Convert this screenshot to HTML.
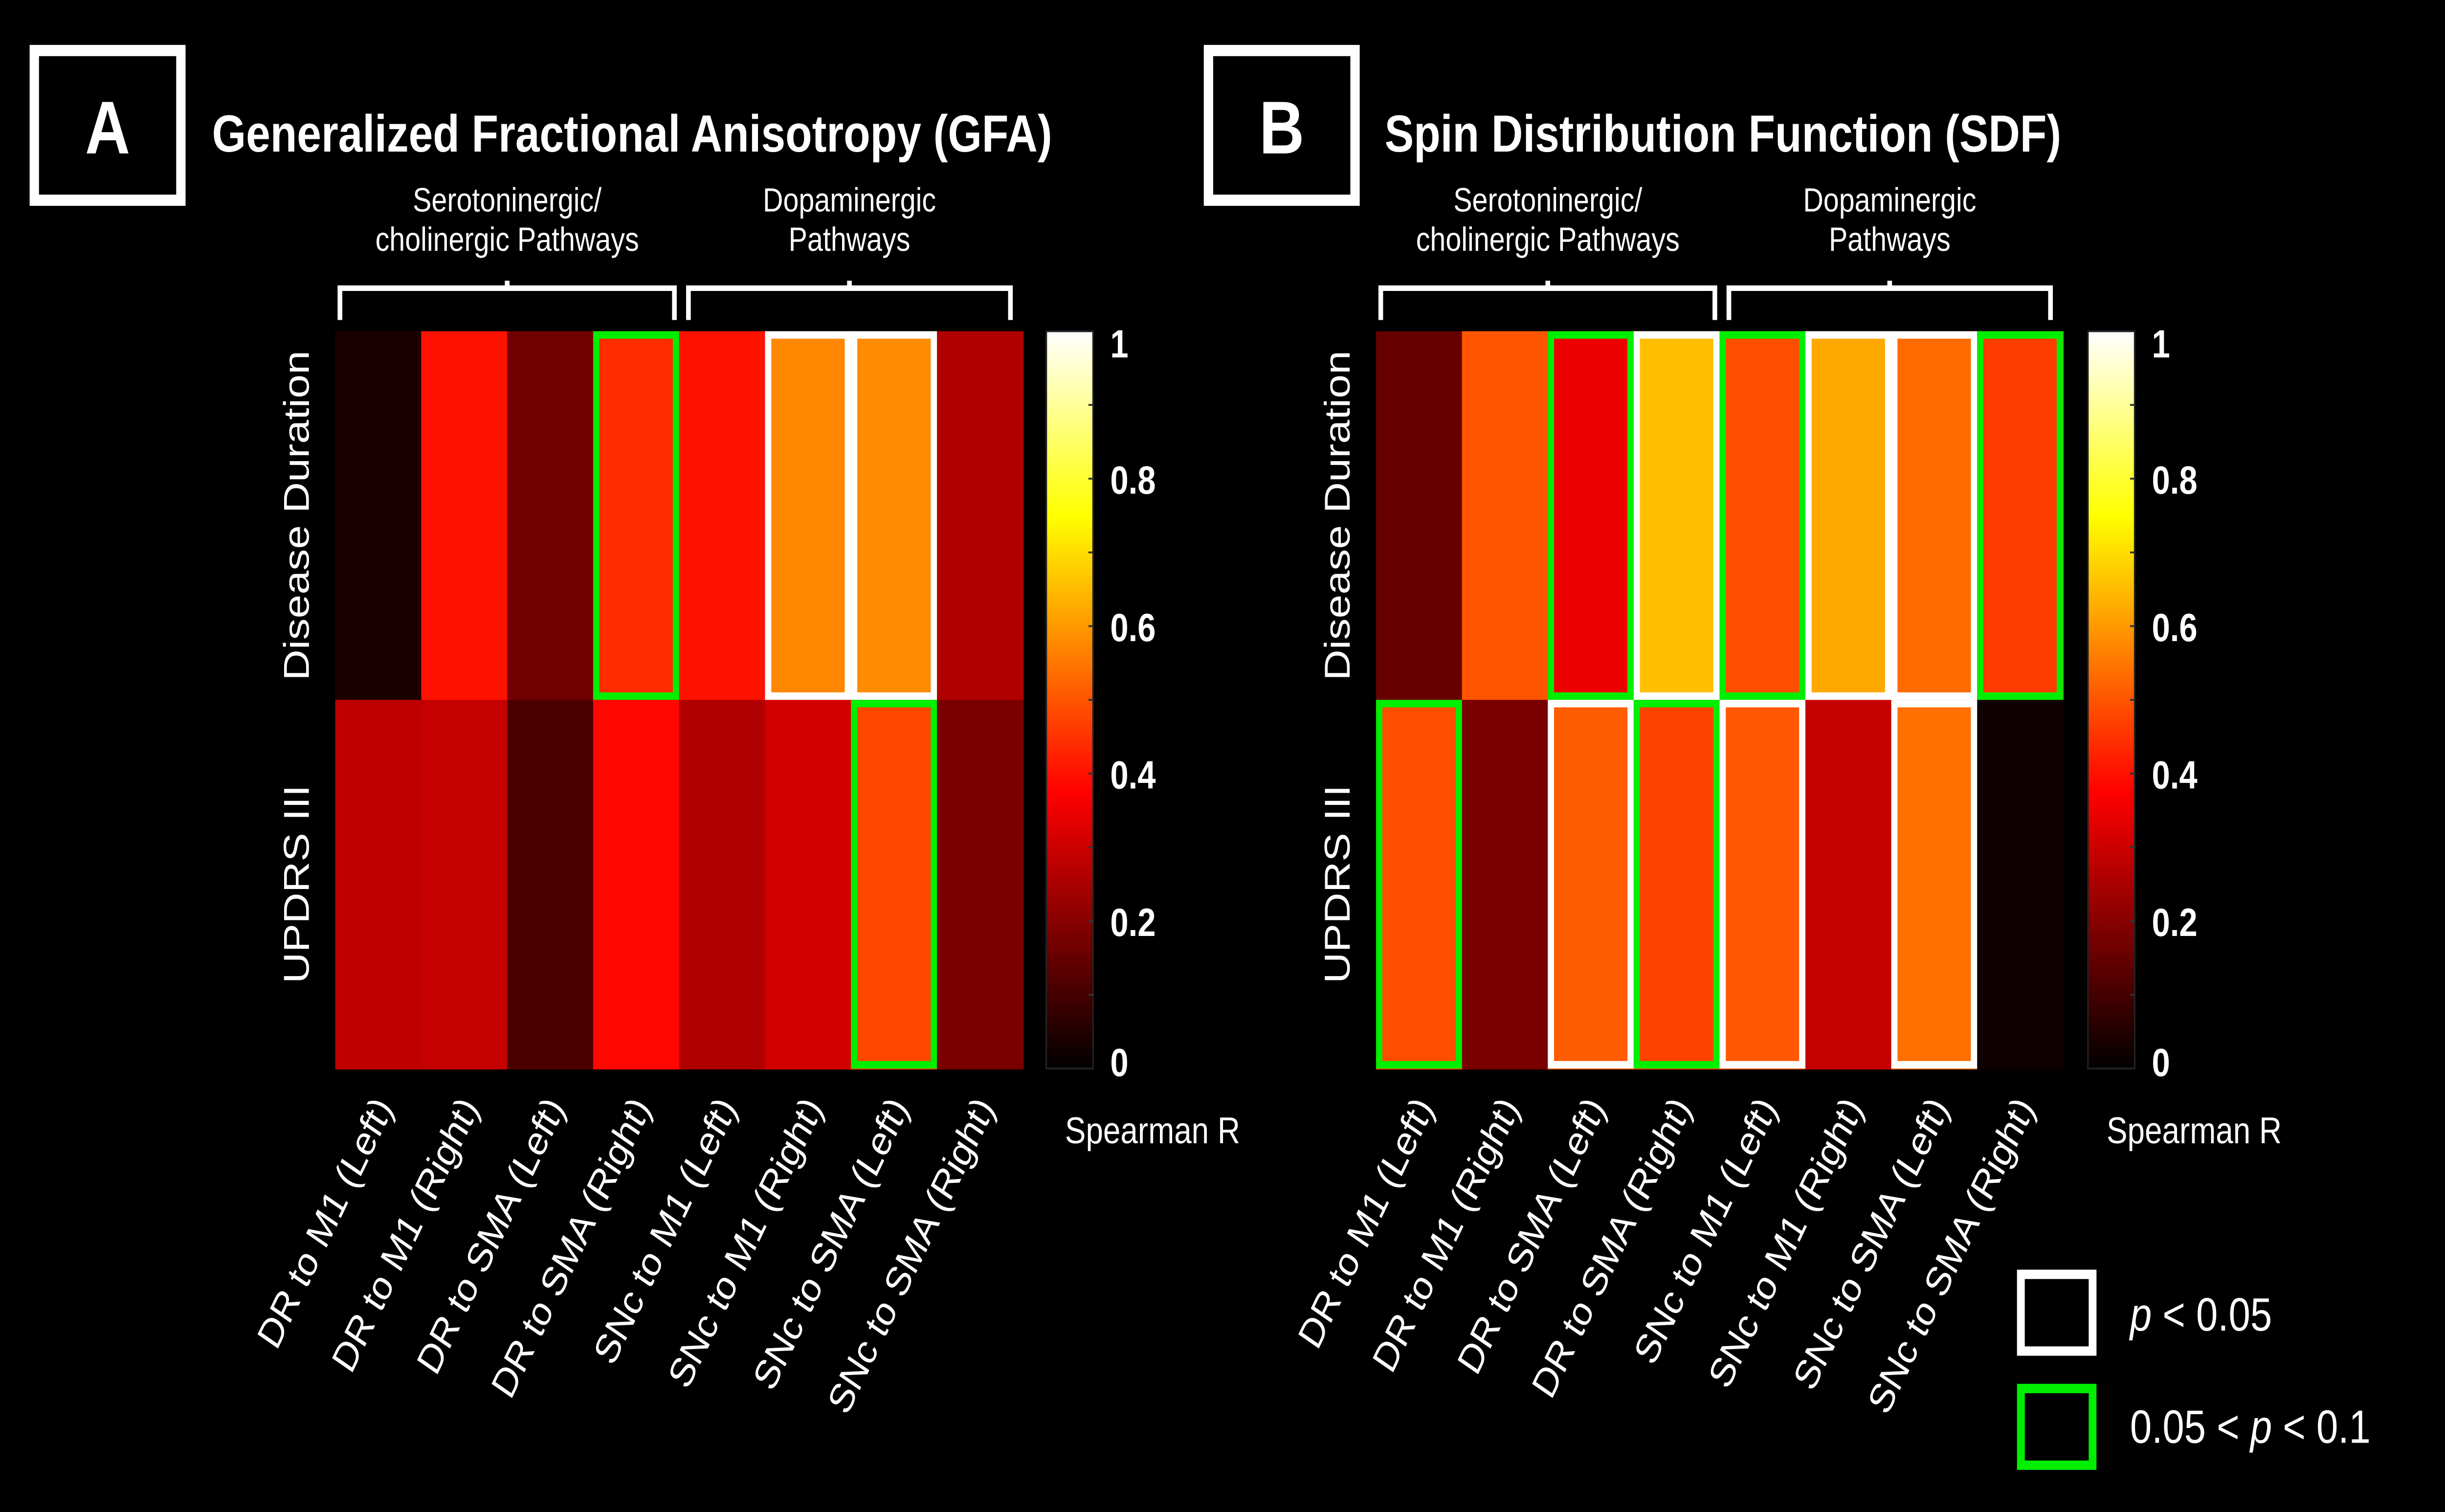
<!DOCTYPE html>
<html><head><meta charset="utf-8">
<style>
html,body{margin:0;padding:0;background:#000;width:100%;height:100%;overflow:hidden;}
svg{display:block;width:100vw;height:100vh;}
text{font-family:"Liberation Sans",Arial,sans-serif;fill:#fff;}
</style></head>
<body>
<svg id="fig" xmlns="http://www.w3.org/2000/svg" viewBox="0 0 1568 808" preserveAspectRatio="none">
<defs>
<linearGradient id="hot" x1="0" y1="1" x2="0" y2="0">
<stop offset="0" stop-color="#000"/>
<stop offset="0.375" stop-color="#f00"/>
<stop offset="0.75" stop-color="#ff0"/>
<stop offset="1" stop-color="#fff"/>
</linearGradient>
</defs>
<rect x="0" y="0" width="1568" height="808" fill="#000"/>
<g id="root"></g>
</svg>
<script>
const categories = ["DR to M1 (Left)","DR to M1 (Right)","DR to SMA (Left)","DR to SMA (Right)","SNc to M1 (Left)","SNc to M1 (Right)","SNc to SMA (Left)","SNc to SMA (Right)"];
const rowLabels = ["Disease Duration","UPDRS III"];
const gfaDisease = [0.04,0.40,0.165,0.44,0.40,0.575,0.58,0.26];
const gfaUpdrs = [0.28,0.29,0.11,0.385,0.26,0.31,0.48,0.18];
const sdfDisease = [0.15,0.50,0.35,0.656,0.49,0.622,0.531,0.463];
const sdfUpdrs = [0.49,0.18,0.51,0.47,0.505,0.29,0.54,0.02];
// significance: 0 none, 1 p<0.05 (white), 2 0.05<p<0.1 (green)
const gfaDiseaseSig = [0,0,0,2,0,1,1,0];
const gfaUpdrsSig = [0,0,0,0,0,0,2,0];
const sdfDiseaseSig = [0,0,2,1,2,1,1,2];
const sdfUpdrsSig = [2,0,1,2,1,0,1,0];
const cbTicks = [0,0.2,0.4,0.6,0.8,1];
const cbTickLabels = ["0","0.2","0.4","0.6","0.8","1"];

const NS="http://www.w3.org/2000/svg";
const root=document.getElementById('root');
function el(tag,attrs,parent){const e=document.createElementNS(NS,tag);for(const k in attrs)e.setAttribute(k,attrs[k]);(parent||root).appendChild(e);return e;}
function hot(v){v=Math.max(0,Math.min(1,v));
 const r=Math.min(1,v/0.375),g=Math.max(0,Math.min(1,(v-0.375)/0.375)),b=Math.max(0,Math.min(1,(v-0.75)/0.25));
 return `rgb(${Math.round(r*255)},${Math.round(g*255)},${Math.round(b*255)})`;}

function panel(cfg){
 const g=el('g',{});
 
 
 const lb=el('rect',{x:cfg.boxX,y:27,width:94,height:80,fill:'none',stroke:'#fff','stroke-width':6},g);
 
 
 const lt=el('text',{x:cfg.boxX+47,y:82,'font-size':40,'font-weight':'bold','text-anchor':'middle'},g);
 lt.textContent=cfg.letter;
 
 
 const tt=el('text',{x:cfg.titleX,y:81,'font-size':28,'font-weight':'bold'},g);
 tt.textContent=cfg.title;
 
 
 const x0=cfg.x0,x1=cfg.x1,y0=177,y2=571;
 const cw=(x1-x0)/categories.length, rh=(y2-y0)/2;
 const xPos=i=>x0+i*cw, yPos=r=>y0+r*rh;
 [[0,4,'Serotoninergic/','cholinergic Pathways'],[4,8,'Dopaminergic','Pathways']].forEach(([a,b,l1,l2],k)=>{
  const xa=xPos(a)+3+(k?3:0), xb=xPos(b)-(k?8:3), xc=(xa+xb)/2;
  const p=el('path',{d:`M${xa},171 V154 H${xb} V171 M${xc},154 V150`,fill:'none',stroke:'#fff','stroke-width':3},g);
  
  
  const t1=el('text',{x:xc,y:113,'font-size':18,'text-anchor':'middle'},g);t1.textContent=l1;
  
  
  const t2=el('text',{x:xc,y:134,'font-size':18,'text-anchor':'middle'},g);t2.textContent=l2;
  
  
 });
 const rows=[cfg.d1,cfg.d2], sigs=[cfg.s1,cfg.s2];
 rows.forEach((vals,r)=>vals.forEach((v,i)=>{
  const c=el('rect',{x:xPos(i),y:yPos(r),width:cw+0.5,height:rh+0.5,fill:hot(v)},g);
  
  
 }));
 rows.forEach((vals,r)=>vals.forEach((v,i)=>{
  const s=sigs[r][i]; if(!s) return;
  const b=el('rect',{x:xPos(i)+2,y:yPos(r)+2,width:cw-4,height:rh-4,fill:'none',stroke:s===1?'#fff':'#00ee00','stroke-width':4},g);
  
  
 }));
 rowLabels.forEach((l,r)=>{
  const cy=yPos(r)+rh/2, cx=x0-17;
  const t=el('text',{x:cx,y:cy,'font-size':23,'text-anchor':'middle',transform:`rotate(-90 ${cx} ${cy})`},g);
  t.textContent=l;
  
  
 });
 categories.forEach((c,i)=>{
  const ax=xPos(i)+cw/2+10, ay=592;
  const t=el('text',{x:ax,y:ay,'font-size':22,'text-anchor':'end',transform:`rotate(-60 ${ax} ${ay})`},g);
  t.textContent=c;
  
  
 });
 const cbx=cfg.cbx, cbw=30;
 const cbY=v=>y2-v*(y2-y0);
 const cb=el('rect',{x:cbx,y:y0,width:cbw,height:y2-y0,fill:'url(#hot)',stroke:'#222','stroke-width':1},g);
 
 
 for(let k=1;k<10;k++){const yy=cbY(k/10);
  el('line',{x1:cbx+cbw-3,x2:cbx+cbw,y1:yy,y2:yy,stroke:'#333','stroke-width':1},g);}
 cbTicks.forEach((v,k)=>{
  const t=el('text',{x:cbx+41,y:cbY(v)+(v===0?4:v===1?14:8),'font-size':21,'font-weight':'bold'},g);
  t.textContent=cbTickLabels[k];
  
  
 });
 const sr=el('text',{x:cbx+12,y:611,'font-size':20},g);
 sr.textContent='Spearman R';
 
 
}
panel({name:'panel-a-gfa',letter:'A',boxX:22,titleX:136,title:'Generalized Fractional Anisotropy (GFA)',x0:215,x1:656,cbx:671,d1:gfaDisease,d2:gfaUpdrs,s1:gfaDiseaseSig,s2:gfaUpdrsSig});
panel({name:'panel-b-sdf',letter:'B',boxX:775,titleX:888,title:'Spin Distribution Function (SDF)',x0:882.5,x1:1323,cbx:1339,d1:sdfDisease,d2:sdfUpdrs,s1:sdfDiseaseSig,s2:sdfUpdrsSig});

const lg=el('g',{});


const lw=el('rect',{x:1296,y:681,width:46,height:41,fill:'none',stroke:'#fff','stroke-width':5},lg);


const lgn=el('rect',{x:1296,y:742,width:46,height:41,fill:'none',stroke:'#00ee00','stroke-width':5},lg);


const t1=el('text',{x:1366,y:711,'font-size':25},lg);
t1.innerHTML='<tspan font-style="italic">p</tspan> &lt; 0.05';


const t2=el('text',{x:1366,y:771,'font-size':25},lg);
t2.innerHTML='0.05 &lt; <tspan font-style="italic">p</tspan> &lt; 0.1';


</script>
</body></html>
